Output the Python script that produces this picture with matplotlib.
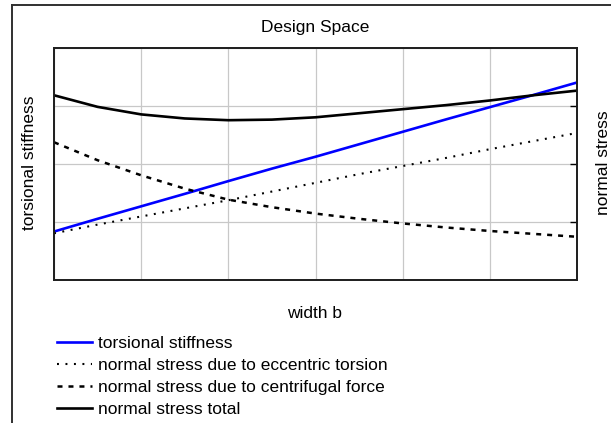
import matplotlib
matplotlib.use('Agg')
import matplotlib.pyplot as plt
from matplotlib.lines import Line2D

plt.rcParams['font.family'] = ['Liberation Sans', 'DejaVu Sans']
plt.rcParams['lines.scale_dashes'] = False

# ---- data (grid units) ----
width_b = [0, 0.5, 1, 1.5, 2, 2.5, 3, 3.5, 4, 4.5, 5, 5.5, 6]
torsional_stiffness = [0.83, 1.05, 1.265, 1.48, 1.70, 1.915, 2.12, 2.335, 2.55, 2.765, 2.975, 3.185, 3.40]
stress_eccentric = [0.80, 0.95, 1.09, 1.23, 1.37, 1.52, 1.67, 1.82, 1.96, 2.10, 2.25, 2.39, 2.53]
stress_centrifugal = [2.37, 2.06, 1.80, 1.57, 1.38, 1.25, 1.14, 1.05, 0.97, 0.90, 0.84, 0.79, 0.74]
stress_total = [3.18, 2.98, 2.85, 2.78, 2.75, 2.76, 2.80, 2.87, 2.94, 3.01, 3.09, 3.18, 3.26]

labels = ['torsional stiffness',
          'normal stress due to eccentric torsion',
          'normal stress due to centrifugal force',
          'normal stress total']
title = 'Design Space'
xlabel = 'width b'
ylabel_left = 'torsional stiffness'
ylabel_right = 'normal stress'

W, H = 611, 423
FS = 12.5
fig = plt.figure(figsize=(W / 100, H / 100), dpi=100)

# outer frame (only left and top edges visible)
fig.add_artist(Line2D([12 / W, 12 / W], [1 - 5 / H, 0], color='#303030', lw=1.4,
                      transform=fig.transFigure))
fig.add_artist(Line2D([12 / W, 1], [1 - 5 / H, 1 - 5 / H], color='#303030', lw=1.4,
                      transform=fig.transFigure))

ax = fig.add_axes([54 / W, 1 - 279.7 / H, 523 / W, 232 / H])
ax.set_xlim(0, 6)
ax.set_ylim(0, 4)
ax.set_xticks(range(7))
ax.set_yticks(range(5))
ax.grid(True, color='#c8c8c8', lw=0.9)

ax2 = ax.twinx()
ax2.set_ylim(0, 4)
ax2.set_yticks([1, 2, 3])
ax.tick_params(left=False, right=False, bottom=False, top=False,
               labelleft=False, labelbottom=False)
ax2.tick_params(axis='y', left=False, right=True, direction='in', length=5,
                width=1.0, color='black', labelright=False, labelleft=False)

for a in (ax, ax2):
    for s in a.spines.values():
        s.set_color('#202020')
        s.set_linewidth(1.3)

h1, = ax.plot(width_b, torsional_stiffness, color='#0000ff', lw=1.9, label=labels[0])
h2, = ax2.plot(width_b, stress_eccentric, color='black', lw=1.5,
               linestyle=(0, (1.4, 4.7)), dash_capstyle='butt', label=labels[1])
h3, = ax2.plot(width_b, stress_centrifugal, color='black', lw=1.8,
               linestyle=(0, (3.6, 4.3)), dash_capstyle='butt', label=labels[2])
h4, = ax2.plot(width_b, stress_total, color='black', lw=1.9, label=labels[3])

fig.text(315.5 / W, 1 - 32.3 / H, title, ha='center', va='baseline', fontsize=FS)
fig.text(315 / W, 1 - 318 / H, xlabel, ha='center', va='baseline', fontsize=FS)
fig.text(29.5 / W, 1 - 163 / H, ylabel_left, rotation=90, ha='center', va='center', fontsize=FS)
fig.text(603.7 / W, 1 - 163 / H, ylabel_right, rotation=90, ha='center', va='center', fontsize=FS)

fig.legend([h1, h2, h3, h4], labels, loc='upper left',
           bbox_to_anchor=(57 / W, 1 - 336 / H), frameon=False, fontsize=FS,
           handlelength=2.0, handletextpad=0.35, labelspacing=0.39,
           borderpad=0, borderaxespad=0)

fig.savefig('out.png', dpi=100)
